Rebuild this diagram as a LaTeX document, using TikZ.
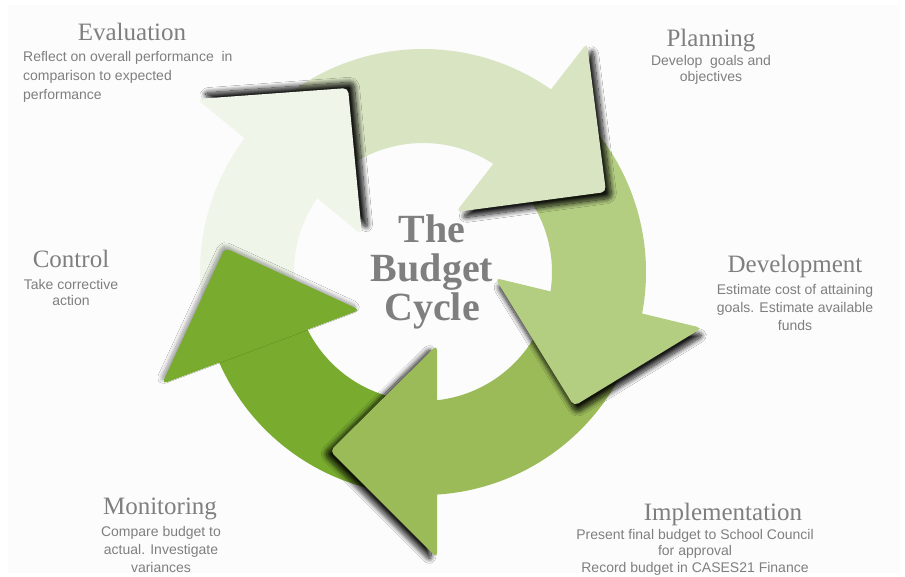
\documentclass[tikz,border=0pt]{standalone}
\usepackage{fontspec}
\setmainfont{Liberation Serif}
\newfontfamily\bodyfont{Liberation Sans}
\usetikzlibrary{shadows.blur}

\definecolor{txtgray}{HTML}{7F7F7F}
\definecolor{paper}{HTML}{FCFCFC}
\definecolor{evalgreen}{HTML}{EFF5E9}
\definecolor{plangreen}{HTML}{D9E5C2}
\definecolor{devgreen}{HTML}{B3CD81}
\definecolor{implgreen}{HTML}{9BBB59}
\definecolor{ctrlgreen}{HTML}{78AB2E}

\begin{document}
\begin{tikzpicture}[x=1pt,y=-1pt,
  heading/.style={inner sep=0pt, text=txtgray, font=\fontsize{25}{30}\selectfont},
  bodytext/.style={inner sep=0pt, text=txtgray, font=\bodyfont\fontsize{14}{#1}\selectfont},
  bodytext/.default=17,
  titletext/.style={inner sep=0pt, text=txtgray, align=center,
    font=\bfseries\fontsize{40}{39}\selectfont},
  headshape/.style={rounded corners=5pt},
  castshadow/.style 2 args={blur shadow={shadow xshift=#1, shadow yshift=#2,
    shadow blur radius=5pt, shadow opacity=90, shadow blur steps=14}},
]
\useasboundingbox (0,0) rectangle (905,577);
\fill[white] (0,0) rectangle (905,577);
\fill[paper] (8,5) rectangle (899,573);

% ring shafts, angles grow clockwise (y axis points down)
\newcommand{\ringshaft}[3]{%
  \fill[#3] (#1:223) arc[start angle=#1, end angle=#2, radius=223]
    -- (#2:129) arc[start angle=#2, end angle=#1, radius=129] -- cycle;}
\begin{scope}[shift={(423,272)}]
  \ringshaft{167}{219}{evalgreen}
  \ringshaft{228}{307}{plangreen}
  \ringshaft{316}{373}{devgreen}
  \ringshaft{22}{89}{implgreen}
  \ringshaft{97}{158}{ctrlgreen}
\end{scope}

% arrowheads with their cast shadows
\fill[evalgreen, headshape, castshadow={6pt}{6pt}]
  (197,99) -- (348,88) -- (362,235) -- cycle;
\fill[plangreen, headshape, castshadow={6pt}{-6pt}]
  (587,43) -- (606,192) -- (456,212) -- cycle;
\fill[devgreen, headshape, castshadow={2pt}{-7pt}]
  (495,278) -- (702,328) -- (574,406) -- cycle;
\fill[implgreen, headshape, castshadow={-6pt}{-3pt}]
  (437,345) -- (437,558) -- (330,451) -- cycle;
\fill[ctrlgreen, headshape, blur shadow={shadow xshift=-2pt, shadow yshift=3pt,
    shadow blur radius=4pt, shadow opacity=40, shadow blur steps=10}]
  (162,384) -- (225,248) -- (360,310) -- cycle;

% centre title
\node[titletext] (title) at (432,272) {The\\Budget\\Cycle};

% stage headings
\node[heading, anchor=base] (evalH) at (132,41) {Evaluation};
\node[heading, anchor=base] (planH) at (711,47) {Planning};
\node[heading, anchor=base] (devH) at (795,273) {Development};
\node[heading, anchor=base] (implH) at (723,520) {Implementation};
\node[heading, anchor=base] (monH) at (160,514) {Monitoring};
\node[heading, anchor=base] (ctrlH) at (71,268) {Control};

% stage descriptions
\node[bodytext=19, align=left, anchor=west] (evalT) at (23,77)
  {Reflect on overall performance\ \ in\\comparison to expected\\performance};
\node[bodytext=16, align=center] (planT) at (711,70)
  {Develop\ \ goals and\\objectives};
\node[bodytext=18, align=center] (devT) at (795,307)
  {Estimate cost of attaining\\goals. Estimate available\\funds};
\node[bodytext=16.5, align=center] (implT) at (695,552)
  {Present final budget to School Council\\for approval\\Record budget in CASES21 Finance};
\node[bodytext=18, align=center] (monT) at (161,549)
  {Compare budget to\\actual. Investigate\\variances};
\node[bodytext=16, align=center] (ctrlT) at (71,292)
  {Take corrective\\action};
\end{tikzpicture}
\end{document}
